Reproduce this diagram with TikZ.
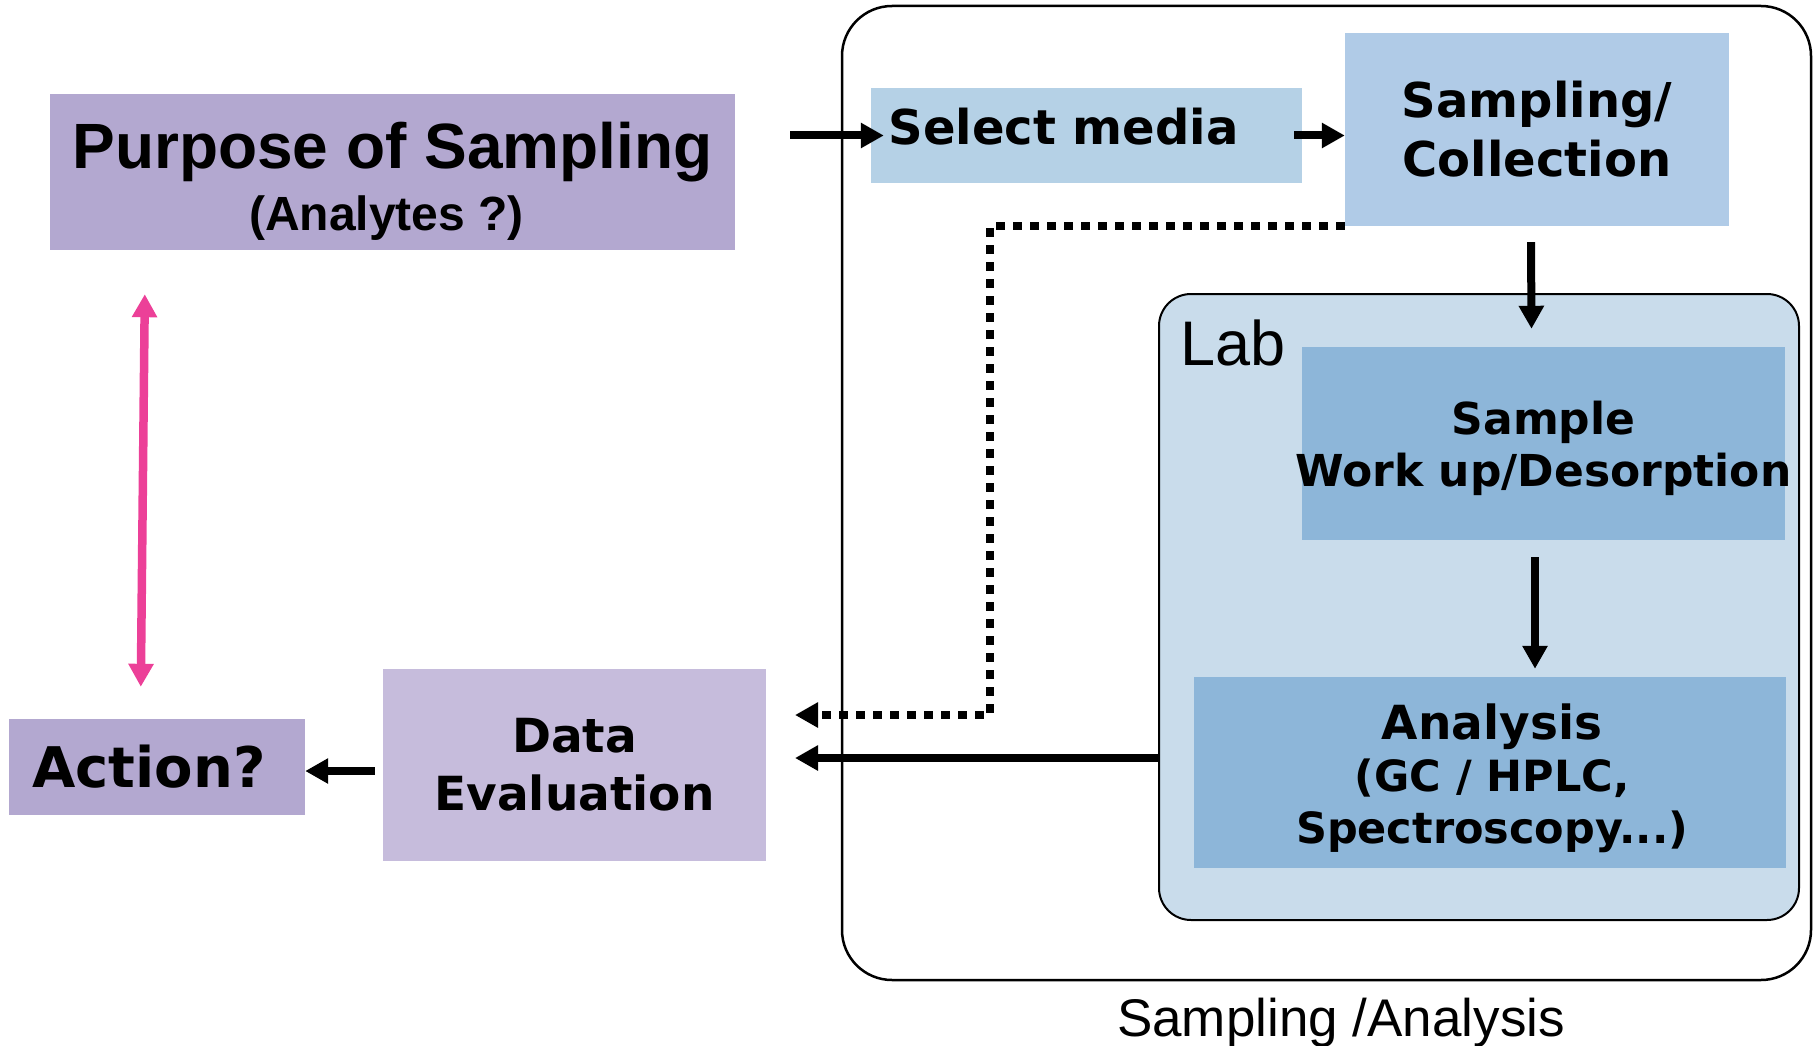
\documentclass[tikz,border=0pt]{standalone}
\usepackage{fontspec}
\setmainfont{Liberation Sans}
\newfontfamily\vfont{DejaVu Sans}
\usepackage{xcolor}
\usetikzlibrary{arrows.meta, positioning, calc}

\definecolor{purpfill}{HTML}{B3A8D0}
\definecolor{purplite}{HTML}{C6BCDC}
\definecolor{bluelite}{HTML}{B5D1E6}
\definecolor{labfill}{HTML}{C9DCEB}
\definecolor{bluemid}{HTML}{8DB6D9}
\definecolor{pinkarr}{HTML}{EC4098}
\newcommand{\fsz}[2]{\fontsize{#1}{#2}\selectfont}

\begin{document}
\begin{tikzpicture}[x=1pt, y=-1pt,
  >={Triangle[length=23pt, width=24pt]},
  box/.style={rectangle, inner sep=0pt, align=center},
  purpbox/.style={box, fill=purpfill},
  evalbox/.style={box, fill=purplite},
  fieldbox/.style={box, fill=bluelite},
  labstep/.style={box, fill=bluemid},
  frame/.style={rectangle, draw=black, inner sep=0pt},
  boxtext/.style={align=center, inner sep=0pt},
  arr/.style={->, line width=8pt},
  dots/.style={->, line width=8.5pt, dash pattern=on 8.5pt off 8.5pt},
  duo/.style={<->, line width=8.5pt, draw=pinkarr}]
  \useasboundingbox (0,0) rectangle (1818,1046);

  % frames
  \node[frame, line width=2.5pt, rounded corners=50pt, minimum width=969pt, minimum height=974pt] (outer) at (1326.5,493) {};
  \node[frame, line width=2pt, rounded corners=32pt, fill=labfill, minimum width=640pt, minimum height=626pt] (lab) at (1479,607) {};
  \node[anchor=base west, font=\fsz{63}{70}] (labtxt) at (1177,365) {Lab};

  % boxes
  \node[purpbox, minimum width=685pt, minimum height=156pt] (purpose) at (392.5,172) {};
  \node[boxtext, font=\bfseries\fsz{64}{62}] (purposetxt) at (392.5,181)
    {Purpose of Sampling\\\fsz{48}{62}(Analytes ?)\hspace*{12pt}};
  \node[fieldbox, minimum width=431pt, minimum height=95pt] (sel) at (1086.5,135.5) {};
  \node[anchor=base west, font=\vfont\bfseries\fsz{48}{57}] (seltxt) at (885,145) {Select media};
  \node[fieldbox, fill=bluelite!97!blue, minimum width=384pt, minimum height=193pt, font=\vfont\bfseries\fsz{48}{59}] (samp) at (1537,129.5)
    {Sampling/\\Collection};
  \node[labstep, minimum width=483pt, minimum height=193pt] (work) at (1543.5,443.5) {};
  \node[boxtext, font=\vfont\bfseries\fsz{44}{52}] (worktxt) at (1543.5,448)
    {Sample\\Work up/Desorption};
  \node[labstep, minimum width=592pt, minimum height=191pt] (ana) at (1490,772.5) {};
  \node[boxtext, font=\vfont\bfseries\fsz{43}{52}] (anatxt) at (1492,778)
    {\fsz{47}{52}Analysis\\(GC / HPLC,\\Spectroscopy...)};
  \node[evalbox, minimum width=383pt, minimum height=192pt, font=\vfont\bfseries\fsz{47}{58}] (deval) at (574.5,765)
    {Data\\Evaluation};
  \node[purpbox, minimum width=296pt, minimum height=96pt, font=\vfont\bfseries\fsz{56}{60}] (act) at (157,767) {Action?\hspace*{16pt}};
  \node[anchor=base, font=\fsz{53}{60}] (salabel) at (1341,1036) {Sampling /Analysis};

  % connectors
  \draw[arr] ([shift={(55,-36.5)}]purpose.east) -- ([xshift=13pt]sel.west);
  \draw[arr] ([xshift=-8pt]sel.east) -- (sel.east -| samp.west);
  \draw[arr] ([shift={(-6,16)}]samp.south) -- ([shift={(-12,-18)}]work.north);
  \draw[arr] ([shift={(-8.5,17)}]work.south) -- ($(work.south |- ana.north)+(-8.5,-8)$);
  \coordinate (dotturn) at (990,715);
  \coordinate (dotend) at (795,715);
  \draw[dots] (samp.south west) -| (dotturn) -- (dotend);
  \coordinate (solidend) at (795,758);
  \draw[arr] (lab.west |- solidend) -- (solidend);
  \draw[arr] ([shift={(-8,6)}]deval.west) -- ([yshift=-4pt]act.east);
  \draw[duo] ([shift={(95,44)}]purpose.south west) -- ([shift={(132,-32)}]act.north west);
\end{tikzpicture}
\end{document}
